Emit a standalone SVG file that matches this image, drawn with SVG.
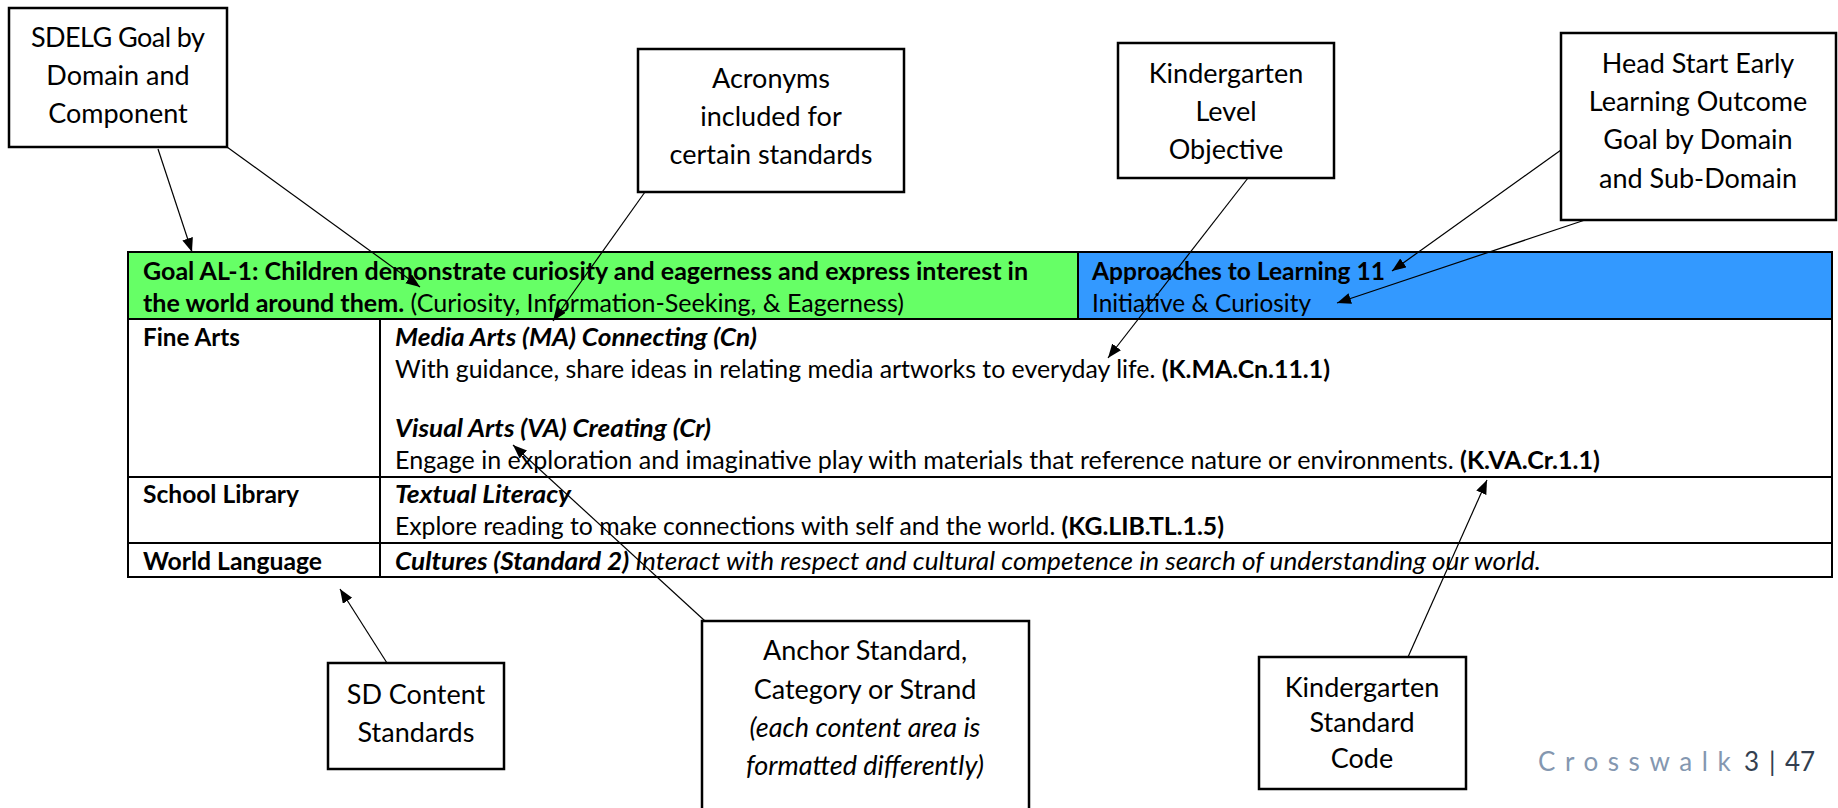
<svg xmlns="http://www.w3.org/2000/svg" width="1838" height="808" viewBox="0 0 1838 808">
<defs>
<marker id="ah" markerUnits="userSpaceOnUse" markerWidth="15" markerHeight="12" refX="14" refY="5.5" orient="auto">
<path d="M0,0 L14,5.5 L0,11 z" fill="#000"/>
</marker>
</defs>
<style>
text{font-family:Lato,"Liberation Sans",sans-serif;fill:#000}
.box{fill:#fff;stroke:#000;stroke-width:2.5}
.lbl{font-size:27px;text-anchor:middle}
.t{font-size:24.5px}
.b{font-weight:bold}
.i{font-style:italic}
.grid{stroke:#000;stroke-width:2;fill:none}
.con line{stroke:#000;stroke-width:1.2;marker-end:url(#ah)}
.ft{font-size:26px}
</style>
<rect width="1838" height="808" fill="#fff"/>

<g id="table">
<rect x="128" y="252" width="950" height="67" fill="#66FF66"/>
<rect x="1078" y="252" width="754" height="67" fill="#3399FF"/>
<rect class="grid" x="128" y="252" width="1704" height="325"/>
<line class="grid" x1="128" y1="319" x2="1832" y2="319"/>
<line class="grid" x1="128" y1="477" x2="1832" y2="477"/>
<line class="grid" x1="128" y1="543" x2="1832" y2="543"/>
<line class="grid" x1="1078" y1="252" x2="1078" y2="319"/>
<line class="grid" x1="380" y1="319" x2="380" y2="577"/>
<text class="t b" x="143" y="280" textLength="885" lengthAdjust="spacingAndGlyphs">Goal AL-1: Children demonstrate curiosity and eagerness and express interest in</text>
<text class="t" x="143" y="312" textLength="761" lengthAdjust="spacingAndGlyphs"><tspan class="b">the world around them.</tspan> (Curiosity, Information-Seeking, &amp; Eagerness)</text>
<text class="t b" x="1092" y="280" textLength="293" lengthAdjust="spacingAndGlyphs">Approaches to Learning 11</text>
<text class="t" x="1092" y="312" textLength="219" lengthAdjust="spacingAndGlyphs">Initiative &amp; Curiosity</text>
<text class="t b" x="143" y="346" textLength="97" lengthAdjust="spacingAndGlyphs">Fine Arts</text>
<text class="t b i" x="395" y="346" textLength="362" lengthAdjust="spacingAndGlyphs">Media Arts (MA) Connecting (Cn)</text>
<text class="t" x="395" y="378" textLength="935" lengthAdjust="spacingAndGlyphs">With guidance, share ideas in relating media artworks to everyday life. <tspan class="b">(K.MA.Cn.11.1)</tspan></text>
<text class="t b i" x="395" y="437" textLength="316" lengthAdjust="spacingAndGlyphs">Visual Arts (VA) Creating (Cr)</text>
<text class="t" x="395" y="469" textLength="1205" lengthAdjust="spacingAndGlyphs">Engage in exploration and imaginative play with materials that reference nature or environments. <tspan class="b">(K.VA.Cr.1.1)</tspan></text>
<text class="t b" x="143" y="503" textLength="156" lengthAdjust="spacingAndGlyphs">School Library</text>
<text class="t b i" x="395" y="503" textLength="176" lengthAdjust="spacingAndGlyphs">Textual Literacy</text>
<text class="t" x="395" y="535" textLength="829" lengthAdjust="spacingAndGlyphs">Explore reading to make connections with self and the world. <tspan class="b">(KG.LIB.TL.1.5)</tspan></text>
<text class="t b" x="143" y="570" textLength="179" lengthAdjust="spacingAndGlyphs">World Language</text>
<text class="t i" x="395" y="570" textLength="1146" lengthAdjust="spacingAndGlyphs"><tspan class="b">Cultures (Standard 2)</tspan> Interact with respect and cultural competence in search of understanding our world.</text>
</g>

<g id="sdelg">
<rect class="box" x="9" y="8" width="218" height="139"/>
<text class="lbl" x="118" y="47" textLength="174">SDELG Goal by</text>
<text class="lbl" x="118" y="85">Domain and</text>
<text class="lbl" x="118" y="123">Component</text>
</g>

<g id="acronyms">
<rect class="box" x="638" y="49" width="266" height="143"/>
<text class="lbl" x="771" y="88">Acronyms</text>
<text class="lbl" x="771" y="126">included for</text>
<text class="lbl" x="771" y="164">certain standards</text>
</g>

<g id="klo">
<rect class="box" x="1118" y="43" width="216" height="135"/>
<text class="lbl" x="1226" y="83">Kindergarten</text>
<text class="lbl" x="1226" y="121">Level</text>
<text class="lbl" x="1226" y="159">Objective</text>
</g>

<g id="headstart">
<rect class="box" x="1561" y="33" width="275" height="187"/>
<text class="lbl" x="1698" y="73">Head Start Early</text>
<text class="lbl" x="1698" y="111">Learning Outcome</text>
<text class="lbl" x="1698" y="149">Goal by Domain</text>
<text class="lbl" x="1698" y="188">and Sub-Domain</text>
</g>

<g id="sdcontent">
<rect class="box" x="328" y="663" width="176" height="106"/>
<text class="lbl" x="416" y="704">SD Content</text>
<text class="lbl" x="416" y="742">Standards</text>
</g>

<g id="anchor">
<rect class="box" x="702" y="621" width="327" height="195"/>
<text class="lbl" x="865" y="660">Anchor Standard,</text>
<text class="lbl" x="865" y="699">Category or Strand</text>
<text class="lbl i" x="865" y="737">(each content area is</text>
<text class="lbl i" x="865" y="775">formatted differently)</text>
</g>

<g id="ksc">
<rect class="box" x="1259" y="657" width="207" height="132"/>
<text class="lbl" x="1362" y="697">Kindergarten</text>
<text class="lbl" x="1362" y="732">Standard</text>
<text class="lbl" x="1362" y="768">Code</text>
</g>

<g id="connectors" class="con">
<line x1="158" y1="149" x2="192" y2="252"/>
<line x1="227" y1="147" x2="420" y2="287"/>
<line x1="645" y1="192" x2="553" y2="321"/>
<line x1="1248" y1="178" x2="1108" y2="358"/>
<line x1="1561" y1="150" x2="1392" y2="271"/>
<line x1="1585" y1="220" x2="1337" y2="303"/>
<line x1="387" y1="663" x2="340" y2="589"/>
<line x1="705" y1="621" x2="513" y2="445"/>
<line x1="1408" y1="657" x2="1487" y2="480"/>
</g>

<g id="footer">
<text class="ft" x="1538" y="771" style="letter-spacing:9.6px;fill:#8497B0">Crosswalk</text>
<text class="ft" x="1744" y="771" style="fill:#333F50">3</text>
<text class="ft" x="1769" y="771" style="fill:#333F50">|</text>
<text class="ft" x="1785" y="771" style="fill:#333F50">47</text>
</g>
</svg>
